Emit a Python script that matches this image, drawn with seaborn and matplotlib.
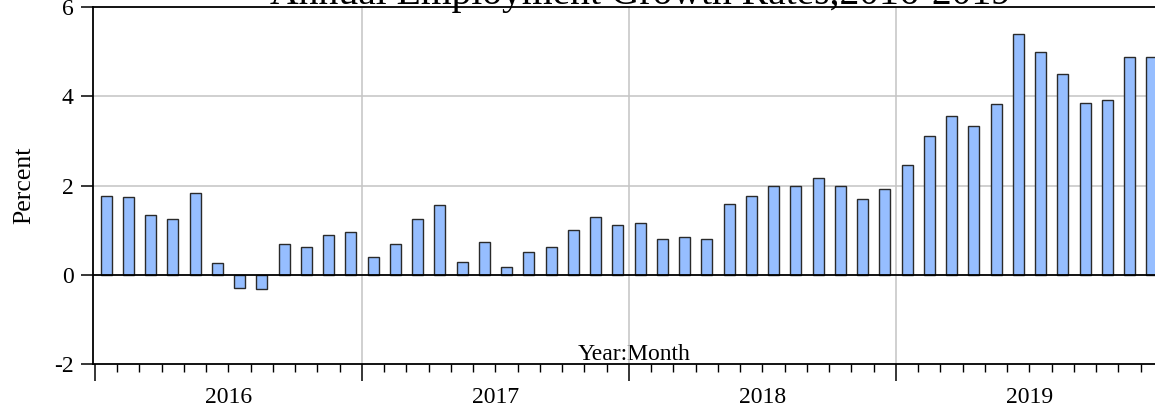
import numpy as np
import pandas as pd
import matplotlib
matplotlib.use("Agg")
import matplotlib.pyplot as plt
import seaborn as sns
from matplotlib.ticker import FixedLocator

# monthly annual employment growth, percent
years = ["2016", "2017", "2018", "2019"]
growth_2016 = [1.77, 1.75, 1.34, 1.26, 1.84, 0.26, -0.29, -0.32, 0.68, 0.62, 0.89, 0.96]
growth_2017 = [0.39, 0.68, 1.26, 1.56, 0.29, 0.73, 0.18, 0.51, 0.62, 1.01, 1.29, 1.12]
growth_2018 = [1.17, 0.80, 0.84, 0.80, 1.59, 1.76, 1.98, 1.98, 2.17, 1.98, 1.69, 1.92]
growth_2019 = [2.47, 3.12, 3.56, 3.34, 3.83, 5.40, 4.99, 4.50, 3.85, 3.91, 4.87, 4.89]
months = [f"{m:02d}" for m in range(1, 13)]

values = growth_2016 + growth_2017 + growth_2018 + growth_2019
labels = [f"{y}:{m}" for y in years for m in months]
df = pd.DataFrame({"period": labels, "growth": values})

W, H = 1155, 412
sns.set_theme(style="white")
plt.rcParams["font.family"] = ["Liberation Serif", "DejaVu Serif"]
plt.rcParams["text.color"] = "black"
plt.rcParams["axes.labelcolor"] = "black"
plt.rcParams["xtick.color"] = "black"
plt.rcParams["ytick.color"] = "black"

fig = plt.figure(figsize=(W / 100, H / 100), dpi=100)

# axes frame in pixels (right edge runs past the picture, like the reference)
month_px = 22.25
left_px, top_px, bottom_px = 93.3, 7.0, 364.0
x_lo, x_hi = -0.576, 48.6
right_px = left_px + (x_hi - x_lo) * month_px
ax = fig.add_axes([left_px / W, (H - bottom_px) / H,
                   (right_px - left_px) / W, (bottom_px - top_px) / H])

sns.barplot(data=df, x="period", y="growth", ax=ax, color="#96BEFF",
            width=0.5, edgecolor="#2a2a2a", linewidth=1.0, saturation=1)
for p in ax.patches:
    p.set_zorder(3)

ax.set_xlim(x_lo, x_hi)
ax.set_ylim(-2, 6)

# grid
ax.set_yticks([-2, 0, 2, 4, 6])
ax.set_yticklabels(["-2", "0", "2", "4", "6"])
for yv in [2, 4]:
    ax.axhline(yv, color="#c4c4c4", lw=1.1, zorder=1)
for xv in [11.5, 23.5, 35.5]:
    ax.axvline(xv, color="#c4c4c4", lw=1.1, zorder=1)
ax.axhline(0, color="black", lw=1.3, zorder=4)

# x ticks: years major, months minor
ax.xaxis.set_major_locator(FixedLocator([-0.5, 11.5, 23.5, 35.5, 47.5]))
ax.xaxis.set_minor_locator(FixedLocator([i - 0.5 for i in range(49)]))
ax.set_xticklabels([])
ax.tick_params(axis="x", which="major", direction="out", length=12, width=1.1,
               color="black", bottom=True)
ax.tick_params(axis="x", which="minor", direction="out", length=6, width=1.0,
               color="black", bottom=True)
ax.tick_params(axis="y", direction="out", length=9, width=1.1, color="black",
               left=True, labelsize=17, pad=5, labelcolor="black")
for i, y in enumerate(years):
    ax.text(i * 12 + 5.5, -0.064, y, transform=ax.get_xaxis_transform(),
            ha="center", va="top", fontsize=17, color="black")

for s in ax.spines.values():
    s.set_color("black")
    s.set_linewidth(1.3)

ax.set_ylabel("Percent", fontsize=18.5, labelpad=14, color="black")
ax.set_xlabel("Year:Month", fontsize=17, color="black")
ax.xaxis.set_label_coords((634 - left_px) / (right_px - left_px), 0.011)
ax.xaxis.label.set_va("baseline")

# the title sits above the frame and is partly cut off, as in the source image
fig.text(640 / W, 1 - 4 / H, "Annual Employment Growth Rates,2016-2019",
         ha="center", va="baseline", fontsize=28.5, color="black")

fig.savefig("out.png", dpi=100)
